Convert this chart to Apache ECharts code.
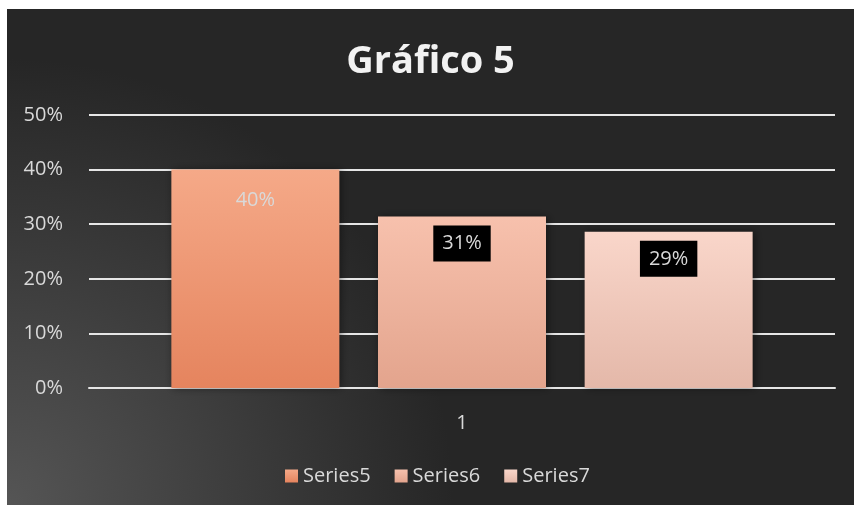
<!DOCTYPE html>
<html lang="es">
<head>
    <meta charset="UTF-8">
    <title>Gráfico 5</title>
    <script src="https://cdn.jsdelivr.net/npm/echarts@6/dist/echarts.min.js"></script>
    <style>
        html, body { margin: 0; padding: 0; background: #ffffff; }
        #main { position: absolute; left: 7px; top: 9px; width: 847px; height: 496px; }
    </style>
</head>
<body>
    <div id="main"></div>
    <script>
        // datos
        var categories = ['1'];
        var seriesNames = ['Series5', 'Series6', 'Series7'];
        var series5 = [0.40];
        var series6 = [0.314];
        var series7 = [0.286];
        var yTicks = [0, 0.1, 0.2, 0.3, 0.4, 0.5];

        var topColors = ['#F5A988', '#F7C1AD', '#F9D6CA'];
        var bottomColors = ['#E5845E', '#E3A48D', '#E4B8A9'];
        var labelBoxes = [null, '#000000', '#000000'];

        function pct(v) { return Math.round(v * 100) + '%'; }

        function makeSeries(name, data, i) {
            var label = {
                show: true,
                position: 'insideTop',
                distance: labelBoxes[i] ? 9 : 21,
                color: '#d9d9d9',
                fontSize: 20,
                fontFamily: 'Open Sans',
                formatter: function (p) { return pct(p.value); }
            };
            if (labelBoxes[i]) {
                label.backgroundColor = labelBoxes[i];
                label.padding = [8, 9, 8, 9];
            }
            return {
                name: name,
                type: 'bar',
                data: data,
                barWidth: 168,
                barGap: '23%',
                label: label,
                itemStyle: {
                    color: new echarts.graphic.LinearGradient(0, 0, 0, 1, [
                        { offset: 0, color: topColors[i] },
                        { offset: 1, color: bottomColors[i] }
                    ]),
                    shadowColor: 'rgba(0,0,0,0.45)',
                    shadowBlur: 8,
                    shadowOffsetX: 2
                }
            };
        }

        var chart = echarts.init(document.getElementById('main'));
        chart.setOption({
            animation: false,
            backgroundColor: new echarts.graphic.RadialGradient(0, 1, 0.9, [
                { offset: 0, color: '#555555' },
                { offset: 1, color: '#262626' }
            ]),
            title: {
                text: 'Gráfico 5',
                left: 'center',
                top: 29,
                textStyle: { color: '#f2f2f2', fontSize: 38, fontWeight: 'bold', fontFamily: 'Open Sans' }
            },
            legend: {
                data: seriesNames,
                bottom: 14,
                left: 273,
                icon: 'rect',
                itemWidth: 13,
                itemHeight: 13,
                itemGap: 24,
                textStyle: { color: '#d9d9d9', fontSize: 20, fontFamily: 'Open Sans' }
            },
            grid: { left: 82, right: 19, top: 106, bottom: 117 },
            xAxis: {
                type: 'category',
                data: categories,
                axisLine: { lineStyle: { color: '#e6e6e6', width: 2 } },
                axisTick: { show: false },
                axisLabel: { color: '#d9d9d9', fontSize: 20, fontFamily: 'Open Sans', margin: 25 }
            },
            yAxis: {
                type: 'value',
                min: yTicks[0],
                max: yTicks[yTicks.length - 1],
                interval: 0.1,
                axisLine: { show: false },
                axisTick: { show: false },
                axisLabel: { color: '#d9d9d9', fontSize: 20, fontFamily: 'Open Sans', margin: 26, formatter: pct },
                splitLine: { lineStyle: { color: '#e6e6e6', width: 2 } }
            },
            series: [
                makeSeries(seriesNames[0], series5, 0),
                makeSeries(seriesNames[1], series6, 1),
                makeSeries(seriesNames[2], series7, 2)
            ]
        });
    </script>
</body>
</html>
